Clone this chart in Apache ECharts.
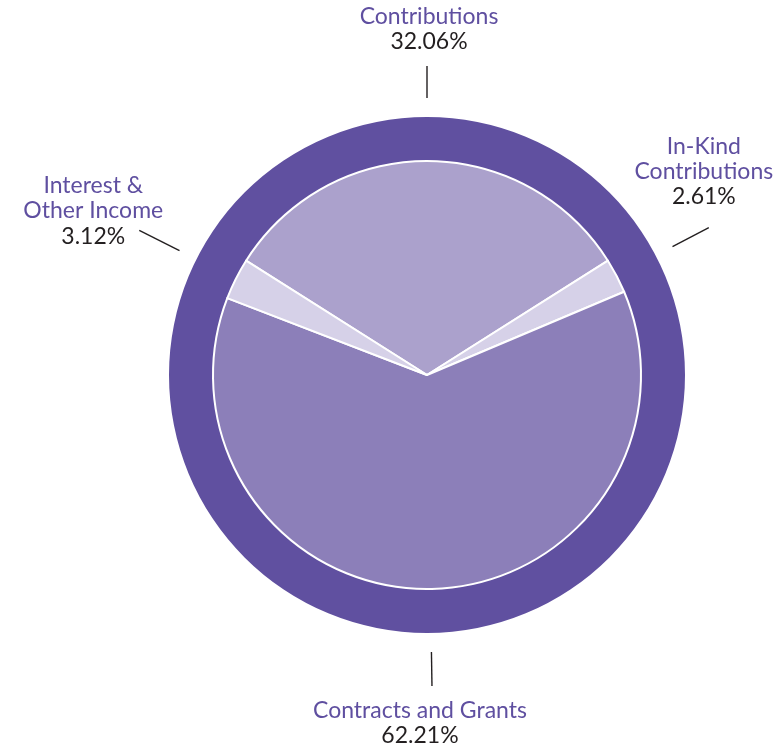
<!DOCTYPE html>
<html><head><meta charset="utf-8">
<script src="https://cdn.jsdelivr.net/npm/echarts@6/dist/echarts.min.js"></script>
<style>html,body{margin:0;padding:0;background:#fff}#c{width:775px;height:747px}</style>
</head><body><div id="c"></div>
<script>
// ---- data ----
const categories = ['Contributions', 'In-Kind\nContributions', 'Contracts and Grants', 'Interest &\nOther Income'];
const values = [32.06, 2.61, 62.21, 3.12];
const percentLabels = ['32.06%', '2.61%', '62.21%', '3.12%'];

// ---- styles / layout ----
const sliceColors = ['#aba1cc', '#d6d1e8', '#8c7fb9', '#d6d1e8'];
const ringColor = '#6050a0';
const nameColor = '#5f4fa0';
const pctColor = '#231f20';
const lineLengths = [32, 41, 34, 45];
const labelAnchor = [[2, -11, 'bottom'], [-5, -18, 'bottom'], [-12, 12, 'top'], [-46, 19, 'bottom']];
const FONT = 'Lato';

const total = values.reduce((a, b) => a + b, 0);
const startAngle = 90 + values[0] / total * 360 / 2;
const center = [427, 375];

const chart = echarts.init(document.getElementById('c'), null, { renderer: 'canvas' });
chart.setOption({
  animation: false,
  backgroundColor: '#ffffff',
  series: [
    {
      type: 'pie', silent: true, center: center, radius: [214, 258],
      label: { show: false }, labelLine: { show: false },
      itemStyle: { color: ringColor, borderWidth: 0 },
      data: [{ name: 'ring', value: total }]
    },
    {
      type: 'pie', silent: true, center: center, radius: 214,
      startAngle: startAngle, clockwise: true,
      label: { show: false }, labelLine: { show: false },
      itemStyle: { borderColor: '#ffffff', borderWidth: 2 },
      data: categories.map((c, i) => ({ name: c, value: values[i], itemStyle: { color: sliceColors[i] } }))
    },
    {
      type: 'pie', silent: true, center: center, radius: 277,
      startAngle: startAngle, clockwise: true, avoidLabelOverlap: false,
      itemStyle: { color: 'rgba(0,0,0,0)', borderWidth: 0 },
      label: {
        show: true, position: 'outside',
        formatter: (p) => '{n|' + categories[p.dataIndex] + '}\n{p|' + percentLabels[p.dataIndex] + '}',
        rich: {
          n: { color: nameColor, fontFamily: FONT, fontSize: 23, lineHeight: 25 },
          p: { color: pctColor, fontFamily: FONT, fontSize: 23, lineHeight: 26 }
        }
      },
      labelLine: { show: true, length2: 0, lineStyle: { color: '#231f20', width: 1.4 } },
      labelLayout: function (p) {
        const pts = p.labelLinePoints;
        if (!pts) return {};
        const a = pts[0], b = pts[1];
        const an = labelAnchor[p.dataIndex];
        return { x: b[0] + an[0], y: b[1] + an[1], align: 'center', verticalAlign: an[2], labelLinePoints: [a, b] };
      },
      data: categories.map((c, i) => ({ name: c, value: values[i], labelLine: { length: lineLengths[i], length2: 0 } }))
    }
  ]
});
</script></body></html>
